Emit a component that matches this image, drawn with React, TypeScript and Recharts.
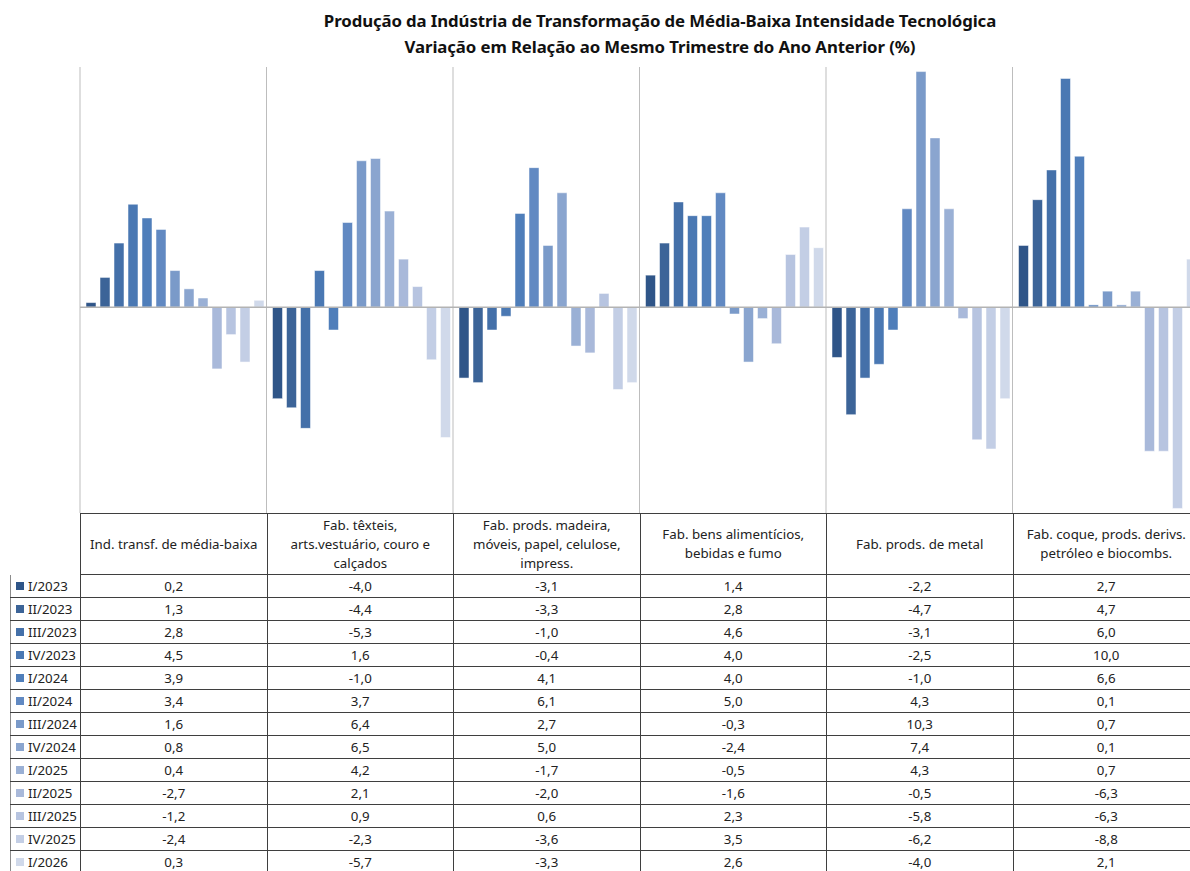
import { BarChart, Bar, XAxis, YAxis, CartesianGrid, ReferenceLine } from "recharts"

// line breaks follow the wrapping of the original table header
const categories = [
  "Ind. transf. de média-baixa",
  "Fab. têxteis,\narts.vestuário, couro e\ncalçados",
  "Fab. prods. madeira,\nmóveis, papel, celulose,\nimpress.",
  "Fab. bens alimentícios,\nbebidas e fumo",
  "Fab. prods. de metal",
  "Fab. coque, prods. derivs.\npetróleo e biocombs.",
]

const quarters = [
  "I/2023", "II/2023", "III/2023", "IV/2023",
  "I/2024", "II/2024", "III/2024", "IV/2024",
  "I/2025", "II/2025", "III/2025", "IV/2025",
  "I/2026",
]

// one list per quarter, in category order
const q1_2023 = [0.2, -4.0, -3.1, 1.4, -2.2, 2.7]
const q2_2023 = [1.3, -4.4, -3.3, 2.8, -4.7, 4.7]
const q3_2023 = [2.8, -5.3, -1.0, 4.6, -3.1, 6.0]
const q4_2023 = [4.5, 1.6, -0.4, 4.0, -2.5, 10.0]
const q1_2024 = [3.9, -1.0, 4.1, 4.0, -1.0, 6.6]
const q2_2024 = [3.4, 3.7, 6.1, 5.0, 4.3, 0.1]
const q3_2024 = [1.6, 6.4, 2.7, -0.3, 10.3, 0.7]
const q4_2024 = [0.8, 6.5, 5.0, -2.4, 7.4, 0.1]
const q1_2025 = [0.4, 4.2, -1.7, -0.5, 4.3, 0.7]
const q2_2025 = [-2.7, 2.1, -2.0, -1.6, -0.5, -6.3]
const q3_2025 = [-1.2, 0.9, 0.6, 2.3, -5.8, -6.3]
const q4_2025 = [-2.4, -2.3, -3.6, 3.5, -6.2, -8.8]
const q1_2026 = [0.3, -5.7, -3.3, 2.6, -4.0, 2.1]

const series = [
  q1_2023, q2_2023, q3_2023, q4_2023,
  q1_2024, q2_2024, q3_2024, q4_2024,
  q1_2025, q2_2025, q3_2025, q4_2025,
  q1_2026,
]

const colors = [
  "#2F5588", "#3C6498", "#4470A9", "#4A78B3",
  "#4F7EBA", "#6189C2", "#7A9AC9", "#8AA5CF",
  "#9AB0D5", "#A9B9DA", "#B7C4E0", "#C3CEE5",
  "#D0D9EA",
]

const data = categories.map((c, i) => {
  const row: Record<string, string | number> = { cat: c }
  quarters.forEach((q, j) => {
    row[q] = series[j][i]
  })
  return row
})

const fmt = (v: number) => v.toFixed(1).replace(".", ",")

const PLOT_LEFT = 80
const PLOT_TOP = 67
const COL_W = 186.5
const PLOT_W = COL_W * categories.length
const CHART_W = 1212
const TABLE_TOP = 513
const HEADER_H = 62
const ROW_H = 23
const FONT = "'Noto Sans', 'Open Sans', sans-serif"
const LINE = "#3f3f3f"

const App = () => {
  return (
    <div
      style={{
        position: "absolute",
        left: 0,
        top: 0,
        width: 1190,
        height: 871,
        overflow: "hidden",
        background: "#fff",
        fontFamily: FONT,
        color: "#222",
      }}
    >
      <div
        style={{
          position: "absolute",
          left: 160,
          top: 8,
          width: 1000,
          textAlign: "center",
          fontWeight: 700,
          fontSize: 16.8,
          lineHeight: "26px",
          color: "#111",
          letterSpacing: -0.1,
        }}
      >
        <div>Produção da Indústria de Transformação de Média-Baixa Intensidade Tecnológica</div>
        <div>Variação em Relação ao Mesmo Trimestre do Ano Anterior (%)</div>
      </div>

      <div style={{ position: "absolute", left: 0, top: 0 }}>
        <BarChart
          width={CHART_W}
          height={TABLE_TOP}
          data={data}
          margin={{ top: PLOT_TOP, left: PLOT_LEFT, right: CHART_W - PLOT_LEFT - PLOT_W, bottom: 0 }}
          barCategoryGap={6}
          barGap={4}
        >
          <CartesianGrid
            horizontal={false}
            stroke="#bdbdbd"
            verticalCoordinatesGenerator={({ offset }: any) =>
              categories.map((_, i) => offset.left + (i * offset.width) / categories.length)
            }
          />
          <XAxis dataKey="cat" hide />
          <YAxis hide domain={[-9, 10.5]} type="number" allowDataOverflow />
          <ReferenceLine y={0} stroke="#b3b3b3" strokeWidth={1.5} />
          {quarters.map((q, j) => (
            <Bar
              key={q}
              dataKey={q}
              fill={colors[j]}
              stroke="#ffffff"
              strokeOpacity={0.5}
              strokeWidth={1}
              isAnimationActive={false}
            />
          ))}
        </BarChart>
      </div>

      {/* data table */}
      <div
        style={{
          position: "absolute",
          left: PLOT_LEFT,
          top: TABLE_TOP,
          width: PLOT_W,
          height: HEADER_H,
          borderTop: `1px solid ${LINE}`,
          borderBottom: `1px solid ${LINE}`,
          boxSizing: "border-box",
          display: "flex",
        }}
      >
        {categories.map((c) => (
          <div
            key={c}
            style={{
              width: COL_W,
              height: "100%",
              borderLeft: `1px solid ${LINE}`,
              boxSizing: "border-box",
              display: "flex",
              alignItems: "center",
              justifyContent: "center",
              textAlign: "center",
              whiteSpace: "pre-line",
              fontFamily: FONT,
              fontSize: 13.3,
              lineHeight: "19px",
              padding: "0 4px",
            }}
          >
            {c}
          </div>
        ))}
      </div>

      {quarters.map((q, j) => (
        <div
          key={q}
          style={{
            position: "absolute",
            left: 10,
            top: TABLE_TOP + HEADER_H + j * ROW_H,
            height: ROW_H,
            width: PLOT_LEFT - 10 + PLOT_W,
            borderBottom: `1px solid ${LINE}`,
            boxSizing: "border-box",
            display: "flex",
            fontFamily: FONT,
            fontSize: 13.3,
          }}
        >
          <div
            style={{
              width: PLOT_LEFT - 10,
              borderLeft: "1px solid #8c8c8c",
              boxSizing: "border-box",
              display: "flex",
              alignItems: "center",
              paddingLeft: 5,
              fontFamily: FONT,
              fontWeight: 400,
            }}
          >
            <span
              style={{
                display: "inline-block",
                width: 8,
                height: 8,
                background: colors[j],
                marginRight: 4,
                flexShrink: 0,
              }}
            />
            <span style={{ fontFamily: FONT }}>{q}</span>
          </div>
          {categories.map((c, i) => (
            <div
              key={c}
              style={{
                width: COL_W,
                borderLeft: `1px solid ${LINE}`,
                boxSizing: "border-box",
                display: "flex",
                alignItems: "center",
                justifyContent: "center",
              }}
            >
              {fmt(series[j][i])}
            </div>
          ))}
        </div>
      ))}
    </div>
  )
}

export default App
